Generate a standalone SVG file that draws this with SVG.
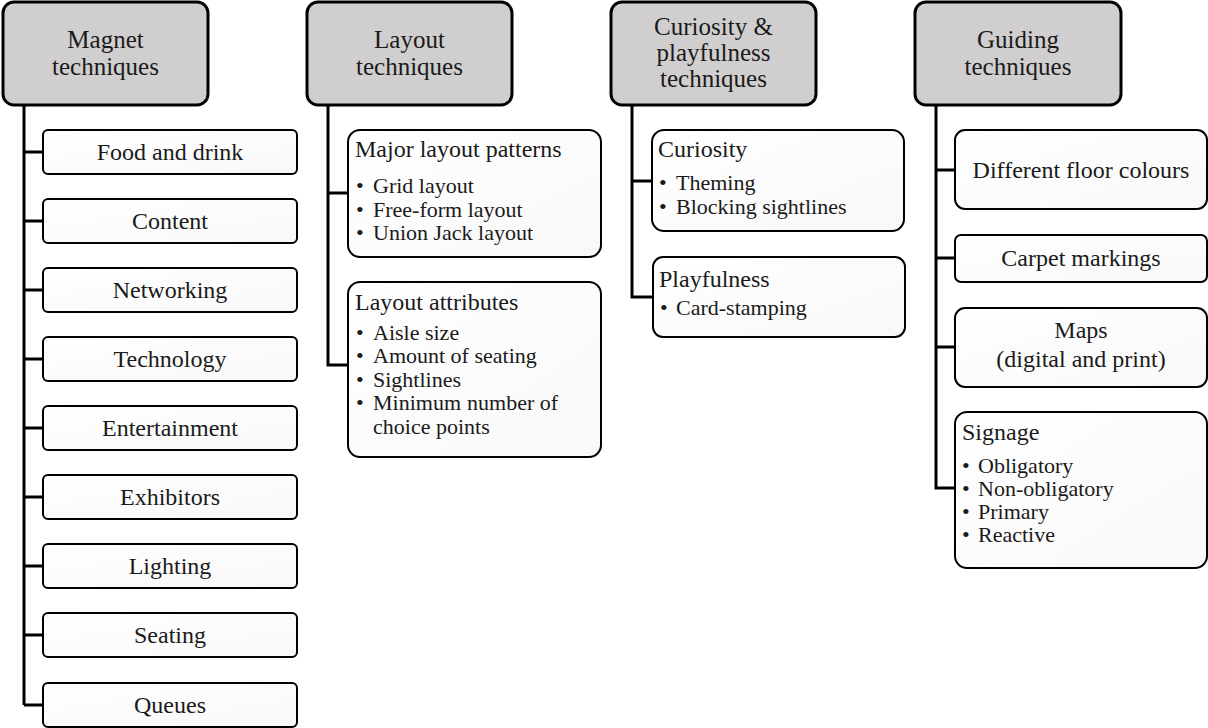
<svg xmlns="http://www.w3.org/2000/svg" width="1208" height="728" viewBox="0 0 1208 728">
<defs>
<linearGradient id="g" x1="0" y1="0" x2="1" y2="1">
<stop offset="0" stop-color="#ffffff"/>
<stop offset="1" stop-color="#f8f8f8"/>
</linearGradient>
</defs>
<style>
text{font-family:"Liberation Serif","Times New Roman",serif;fill:#1a1a1a}
.hd{fill:#d0cece;stroke:#000;stroke-width:3}
.bx{fill:url(#g);stroke:#000;stroke-width:2}
.ht{font-size:25px;text-anchor:middle}
.bt{font-size:24px;text-anchor:middle}
.tt{font-size:24px}
.li{font-size:22px}
.bu{font-size:22px}
.cn{fill:none;stroke:#000;stroke-width:3}
</style>
<rect width="1208" height="728" fill="#fff"/>
<g id="connectors">
<path class="cn" d="M24 105V705M24 152H43M24 221H43M24 290H43M24 359H43M24 428H43M24 497H43M24 566H43M24 635H43M24 705H43"/>
<path class="cn" d="M328 105V365H348M328 193H348"/>
<path class="cn" d="M632 105V297H653M632 181H652"/>
<path class="cn" d="M936 105V488H955M936 170H955M936 258H955M936 347H955"/>
</g>
<g id="magnet">
<rect class="hd" x="3" y="2" width="205" height="103" rx="11"/>
<text class="ht" x="105.5" y="48">Magnet</text>
<text class="ht" x="105.5" y="75">techniques</text>
</g>
<g id="layout">
<rect class="hd" x="307" y="2" width="205" height="103" rx="11"/>
<text class="ht" x="409.5" y="48">Layout</text>
<text class="ht" x="409.5" y="75">techniques</text>
</g>
<g id="curiosity">
<rect class="hd" x="611" y="2" width="205" height="103" rx="11"/>
<text class="ht" x="713.5" y="35">Curiosity &amp;</text>
<text class="ht" x="713.5" y="61">playfulness</text>
<text class="ht" x="713.5" y="87">techniques</text>
</g>
<g id="guiding">
<rect class="hd" x="915" y="2" width="206" height="103" rx="11"/>
<text class="ht" x="1018" y="48">Guiding</text>
<text class="ht" x="1018" y="75">techniques</text>
</g>
<g id="food"><rect class="bx" x="43" y="130" width="254" height="44" rx="5"/><text class="bt" x="170" y="160">Food and drink</text></g>
<g id="content"><rect class="bx" x="43" y="199" width="254" height="44" rx="5"/><text class="bt" x="170" y="229">Content</text></g>
<g id="networking"><rect class="bx" x="43" y="268" width="254" height="44" rx="5"/><text class="bt" x="170" y="298">Networking</text></g>
<g id="technology"><rect class="bx" x="43" y="337" width="254" height="44" rx="5"/><text class="bt" x="170" y="367">Technology</text></g>
<g id="entertainment"><rect class="bx" x="43" y="406" width="254" height="44" rx="5"/><text class="bt" x="170" y="436">Entertainment</text></g>
<g id="exhibitors"><rect class="bx" x="43" y="475" width="254" height="44" rx="5"/><text class="bt" x="170" y="505">Exhibitors</text></g>
<g id="lighting"><rect class="bx" x="43" y="544" width="254" height="44" rx="5"/><text class="bt" x="170" y="574">Lighting</text></g>
<g id="seating"><rect class="bx" x="43" y="613" width="254" height="44" rx="5"/><text class="bt" x="170" y="643">Seating</text></g>
<g id="queues"><rect class="bx" x="43" y="683" width="254" height="44" rx="5"/><text class="bt" x="170" y="713">Queues</text></g>
<g id="major">
<rect class="bx" x="348" y="130" width="253" height="127" rx="12"/>
<text class="tt" x="355" y="157">Major layout patterns</text>
<text class="bu" x="356" y="193">•</text><text class="li" x="373" y="193">Grid layout</text>
<text class="bu" x="356" y="217">•</text><text class="li" x="373" y="217">Free-form layout</text>
<text class="bu" x="356" y="240">•</text><text class="li" x="373" y="240">Union Jack layout</text>
</g>
<g id="attributes">
<rect class="bx" x="348" y="282" width="253" height="175" rx="12"/>
<text class="tt" x="355" y="310">Layout attributes</text>
<text class="bu" x="356" y="340">•</text><text class="li" x="373" y="340">Aisle size</text>
<text class="bu" x="356" y="363">•</text><text class="li" x="373" y="363">Amount of seating</text>
<text class="bu" x="356" y="387">•</text><text class="li" x="373" y="387">Sightlines</text>
<text class="bu" x="356" y="410">•</text><text class="li" x="373" y="410">Minimum<tspan dx="6">number of</tspan></text>
<text class="li" x="373" y="434">choice points</text>
</g>
<g id="curiositybox">
<rect class="bx" x="652" y="130" width="252" height="101" rx="12"/>
<text class="tt" x="658" y="157">Curiosity</text>
<text class="bu" x="659" y="190">•</text><text class="li" x="676" y="190">Theming</text>
<text class="bu" x="659" y="214">•</text><text class="li" x="676" y="214">Blocking sightlines</text>
</g>
<g id="playfulness">
<rect class="bx" x="653" y="257" width="252" height="80" rx="10"/>
<text class="tt" x="659" y="287">Playfulness</text>
<text class="bu" x="660" y="315">•</text><text class="li" x="676" y="315">Card-stamping</text>
</g>
<g id="floor"><rect class="bx" x="955" y="130" width="252" height="79" rx="10"/><text class="bt" x="1081" y="178">Different floor colours</text></g>
<g id="carpet"><rect class="bx" x="955" y="235" width="252" height="47" rx="6"/><text class="bt" x="1081" y="266">Carpet markings</text></g>
<g id="maps"><rect class="bx" x="955" y="308" width="252" height="79" rx="10"/><text class="bt" x="1081" y="338">Maps</text><text class="bt" x="1081" y="367">(digital and print)</text></g>
<g id="signage">
<rect class="bx" x="955" y="412" width="252" height="156" rx="12"/>
<text class="tt" x="962" y="440">Signage</text>
<text class="bu" x="962" y="473">•</text><text class="li" x="978" y="473">Obligatory</text>
<text class="bu" x="962" y="496">•</text><text class="li" x="978" y="496">Non-obligatory</text>
<text class="bu" x="962" y="519">•</text><text class="li" x="978" y="519">Primary</text>
<text class="bu" x="962" y="542">•</text><text class="li" x="978" y="542">Reactive</text>
</g>
</svg>
